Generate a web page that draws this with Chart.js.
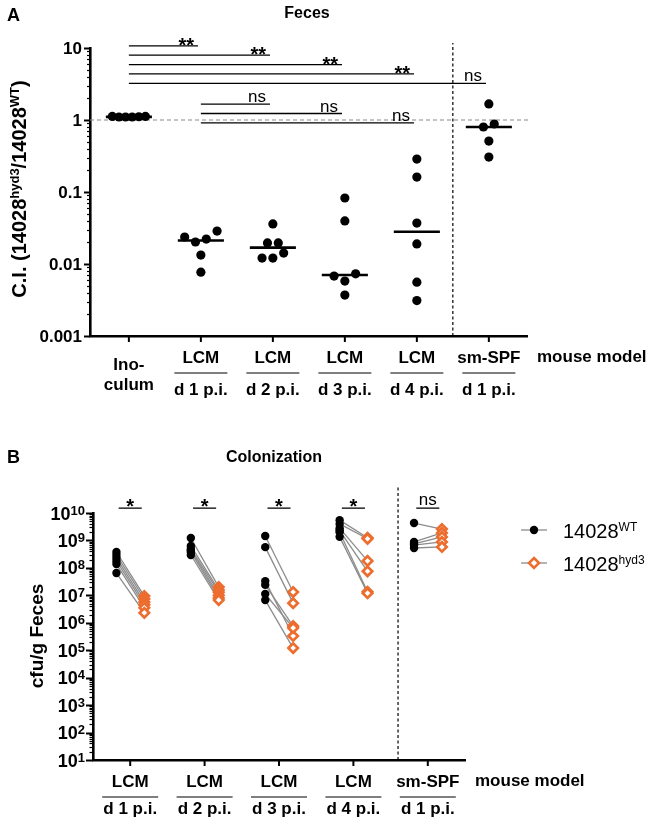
<!DOCTYPE html>
<html lang="en">
<head>
<meta charset="UTF-8">
<title>Feces C.I. and colonization</title>
<script src="https://cdn.jsdelivr.net/npm/chart.js"></script>
<style>
  body { margin: 0; background: #fff; }
  #wrap { position: relative; width: 658px; height: 824px; }
  canvas { position: absolute; left: 0; }
</style>
</head>
<body>
<div id="wrap">
  <canvas id="chartA" width="658" height="410" style="top:0"></canvas>
  <canvas id="chartB" width="658" height="404" style="top:420px"></canvas>
</div>

<script>
// ---------- panel A: competitive index in feces ----------
const groupTopA = ['Ino-', 'LCM', 'LCM', 'LCM', 'LCM', 'sm-SPF'];
const groupBottomA = ['culum', 'd 1 p.i.', 'd 2 p.i.', 'd 3 p.i.', 'd 4 p.i.', 'd 1 p.i.'];
const ciValues = [
  [1.1, 1.12, 1.1, 1.11, 1.1, 1.12],
  [0.0237, 0.0202, 0.0222, 0.0287, 0.0133, 0.0077],
  [0.036, 0.0196, 0.0196, 0.0142, 0.0121, 0.0121],
  [0.0826, 0.0396, 0.0073, 0.0068, 0.0058, 0.0037],
  [0.287, 0.161, 0.037, 0.019, 0.0056, 0.0031],
  [1.67, 0.88, 0.80, 0.51, 0.306]
];
// [from group, to group, result]
const ciTests = [
  [0, 1, '**'], [0, 2, '**'], [0, 3, '**'], [0, 4, '**'], [0, 5, 'ns'],
  [1, 2, 'ns'], [1, 3, 'ns'], [1, 4, 'ns']
];

// ---------- panel B: colonization ----------
const groupTopB = ['LCM', 'LCM', 'LCM', 'LCM', 'sm-SPF'];
const groupBottomB = ['d 1 p.i.', 'd 2 p.i.', 'd 3 p.i.', 'd 4 p.i.', 'd 1 p.i.'];
const cfuWT = [
  [3.8e8, 2.95e8, 2.3e8, 1.8e8, 1.38e8, 6.5e7],
  [1.23e9, 6.3e8, 4.9e8, 4.3e8, 3.8e8, 2.95e8],
  [1.45e9, 5.7e8, 3.3e7, 2.4e7, 1.12e7, 6.7e6],
  [5.5e9, 4e9, 2.8e9, 2.3e9, 2e9, 1.35e9],
  [4.3e9, 8.8e8, 7.5e8, 6.8e8, 5.3e8]
];
const cfuHyd3 = [
  [9.4e6, 7.4e6, 5.7e6, 4.5e6, 3.5e6, 2.3e6],
  [2.0e7, 1.55e7, 1.3e7, 1.0e7, 8e6, 6.7e6],
  [1.32e7, 5.2e6, 3.3e5, 7.6e5, 6.5e5, 1.2e5],
  [1.25e9, 1.15e9, 1.8e8, 7.5e7, 1.35e7, 1.2e7],
  [2.6e9, 1.87e9, 1.34e9, 8.8e8, 5.8e8]
];
const cfuTests = ['*', '*', '*', '*', 'ns'];
const legendB = [[['14028', 0], ['WT', 1]], [['14028', 0], ['hyd3', 1]]];

const FONT = '"Liberation Sans", Arial, sans-serif';
const ORANGE = '#EC6D2E';
const GREY = '#8c8c8c';

function font(size, bold) { return (bold ? 'bold ' : '') + size + 'px ' + FONT; }

// text with superscript pieces
function drawRich(ctx, pieces, x, y, size, supSize, bold, align, rise) {
  const widths = pieces.map(([t, sup]) => { ctx.font = font(sup ? supSize : size, bold); return ctx.measureText(t).width; });
  const total = widths.reduce((a, b) => a + b, 0);
  let cx = align === 'right' ? x - total : align === 'center' ? x - total / 2 : x;
  ctx.textAlign = 'left';
  ctx.textBaseline = 'alphabetic';
  pieces.forEach(([t, sup], i) => {
    ctx.font = font(sup ? supSize : size, bold);
    ctx.fillText(t, cx, sup ? y - rise : y);
    cx += widths[i];
  });
}

function median(arr) {
  const s = arr.slice().sort((a, b) => a - b), n = s.length;
  return n % 2 ? s[(n - 1) / 2] : (s[n / 2 - 1] + s[n / 2]) / 2;
}

// column scatter: points with almost equal values are spread sideways
function swarmOffsets(values, tol, step, maxSpan) {
  const logs = values.map(v => Math.log10(v));
  const order = values.map((_, i) => i).sort((a, b) => logs[b] - logs[a]);
  const offs = values.map(() => 0);
  const place = run => {
    const n = run.length, s = n > 1 ? Math.min(step, maxSpan / (n - 1)) : 0;
    const slots = [];
    for (let lo = 0, hi = n - 1; lo <= hi; lo++, hi--) { slots.push(hi); if (lo !== hi) slots.push(lo); }
    run.forEach((idx, k) => { offs[idx] = (slots[k] - (n - 1) / 2) * s; });
  };
  let run = [order[0]];
  for (let k = 1; k < order.length; k++) {
    if (logs[run[run.length - 1]] - logs[order[k]] < tol) run.push(order[k]);
    else { place(run); run = [order[k]]; }
  }
  place(run);
  return offs;
}

function seg(x1, y1, x2, y2, color, width, dash, order) {
  return {
    data: [{ x: x1, y: y1 }, { x: x2, y: y2 }], showLine: true, pointRadius: 0,
    borderColor: color, borderWidth: width, borderDash: dash || [], clip: false, order: order || 2
  };
}

// log axis tick marks
function drawAxisMarks(ctx, chart, lo, hi, majorLen) {
  const ys = chart.scales.y;
  const ax = chart.chartArea.left;
  ctx.save();
  ctx.strokeStyle = '#000';
  for (let e = lo; e <= hi; e++) {
    for (let m = 1; m <= 9; m++) {
      if (e === hi && m > 1) break;
      const py = Math.round(ys.getPixelForValue(m * Math.pow(10, e))) + 0.5;
      ctx.lineWidth = m === 1 ? 2 : 1.2;
      ctx.beginPath();
      ctx.moveTo(ax - (m === 1 ? majorLen : majorLen / 2), py);
      ctx.lineTo(ax, py);
      ctx.stroke();
    }
  }
  ctx.restore();
}

function drawGroupLabels(ctx, chart, tops, bottoms, yTop, yLine, yBottom, lineW, plain) {
  const xs = chart.scales.x, by = chart.chartArea.bottom;
  ctx.save();
  ctx.fillStyle = '#000';
  ctx.textAlign = 'center';
  ctx.textBaseline = 'alphabetic';
  ctx.font = font(17, true);
  tops.forEach((t, i) => {
    const px = xs.getPixelForValue(i);
    ctx.strokeStyle = '#000';
    ctx.lineWidth = 2;
    ctx.beginPath(); ctx.moveTo(px, by); ctx.lineTo(px, by + 6); ctx.stroke();
    if (i === plain) {
      ctx.fillText(t, px, yTop + 7);
      ctx.fillText(bottoms[i], px, yBottom - 5);
      return;
    }
    ctx.fillText(t, px, yTop);
    ctx.fillText(bottoms[i], px, yBottom);
    ctx.strokeStyle = '#555';
    ctx.lineWidth = 1.4;
    ctx.beginPath(); ctx.moveTo(px - lineW / 2, yLine); ctx.lineTo(px + lineW / 2, yLine); ctx.stroke();
  });
  ctx.textAlign = 'left';
  ctx.fillText('mouse model', xs.right + 10, yTop - 1);
  ctx.restore();
}

// ----- build panel A -----
const mediansA = ciValues.map(median);
const pointsA = [];
ciValues.forEach((vals, g) => {
  const offs = swarmOffsets(vals, 0.125, 0.15, 0.46);
  vals.forEach((v, i) => pointsA.push({ x: g + offs[i], y: v }));
});
const bracketA = ciTests.map(([a, b, txt], k) => {
  const rank = ciTests.filter(t => t[0] === a).findIndex(t => t === ciTests[k]);
  const level = Math.pow(10, (a === 0 ? 1.03 : 0.22) - 0.13 * rank);
  return { x1: a, x2: b - 0.04, y: level, txt };
});

const datasetsA = [
  { data: pointsA, pointRadius: 4.6, pointBackgroundColor: '#000', pointBorderWidth: 0, clip: false, order: 0 },
  ...mediansA.map((m, g) => seg(g - 0.32, m, g + 0.32, m, '#000', 2.6, null, 1)),
  seg(-0.54, 1, 5.56, 1, '#8a8a8a', 1.2, [4, 3]),
  seg(4.5, 0.001, 4.5, 11.7, '#000', 1.2, [3, 2.5]),
  ...bracketA.map(b => seg(b.x1, b.y, b.x2, b.y, '#000', 1.3))
];

const panelA = {
  id: 'panelA',
  afterDraw(chart) {
    const ctx = chart.ctx, ys = chart.scales.y, xs = chart.scales.x;
    drawAxisMarks(ctx, chart, -3, 1, 6);
    ctx.save();
    ctx.fillStyle = '#000';
    ctx.font = font(17, true);
    ctx.textAlign = 'right';
    ctx.textBaseline = 'middle';
    ['0.001', '0.01', '0.1', '1', '10'].forEach(t => ctx.fillText(t, chart.chartArea.left - 8, ys.getPixelForValue(+t) + 1));
    // brackets text
    bracketA.forEach(b => {
      const px = xs.getPixelForValue(b.x2) - 4, py = ys.getPixelForValue(b.y);
      ctx.textBaseline = 'alphabetic';
      if (b.txt === 'ns') { ctx.font = font(17, false); ctx.fillText(b.txt, px, py - 2); }
      else { ctx.font = font(20, true); ctx.fillText(b.txt, px, py + 6); }
    });
    // titles
    ctx.textAlign = 'left';
    ctx.font = font(18, true);
    ctx.fillText('A', 7, 21);
    ctx.textAlign = 'center';
    ctx.font = font(16, true);
    ctx.fillText('Feces', 307, 18);
    ctx.restore();
    drawGroupLabels(ctx, chart, groupTopA, groupBottomA, 363, 373, 395, 53, 0);
    ctx.save();
    ctx.translate(19, 189);
    ctx.rotate(-Math.PI / 2);
    ctx.fillStyle = '#000';
    drawRich(ctx, [['C.I. (14028', 0], ['hyd3', 1], ['/14028', 0], ['WT', 1], [')', 0]], 0, 7, 20, 13, true, 'center', 7.5);
    ctx.restore();
  }
};

const axisStyle = {
  grid: { display: false, drawTicks: false },
  ticks: { display: false },
  border: { color: '#000', width: 2.6 }
};

new Chart(document.getElementById('chartA'), {
  type: 'scatter',
  data: { datasets: datasetsA },
  options: {
    responsive: false, animation: false, events: [],
    layout: { padding: { left: 90, right: 131, top: 48, bottom: 74 } },
    plugins: { legend: { display: false }, tooltip: { enabled: false } },
    scales: {
      x: { type: 'linear', min: -0.54, max: 5.53, ...axisStyle },
      y: { type: 'logarithmic', min: 0.001, max: 10, ...axisStyle }
    }
  },
  plugins: [panelA]
});

// ----- build panel B -----
const wtOff = -0.185, hydOff = 0.19;
const pairLines = [];
cfuWT.forEach((vals, g) => vals.forEach((v, i) =>
  pairLines.push(seg(g + wtOff, v, g + hydOff, cfuHyd3[g][i], GREY, 1.3))));

const datasetsB = [
  { data: cfuWT.flatMap((vals, g) => vals.map(v => ({ x: g + wtOff, y: v }))),
    pointRadius: 4.2, pointBackgroundColor: '#000', pointBorderWidth: 0, clip: false, order: 0 },
  { data: cfuHyd3.flatMap((vals, g) => vals.map(v => ({ x: g + hydOff, y: v }))),
    pointStyle: 'rectRot', pointRadius: 4.7, pointBackgroundColor: '#fff', pointBorderColor: ORANGE,
    pointBorderWidth: 2.7, clip: false, order: 0 },
  ...pairLines,
  seg(3.6, 10, 3.6, 8.9e10, '#000', 1.2, [3, 2.5]),
  ...cfuTests.map((t, g) => seg(g - 0.155, 1.5e10, g + 0.155, 1.5e10, '#333', 1.6))
];

const panelB = {
  id: 'panelB',
  afterDraw(chart) {
    const ctx = chart.ctx, ys = chart.scales.y, xs = chart.scales.x;
    drawAxisMarks(ctx, chart, 1, 10, 7);
    ctx.save();
    ctx.fillStyle = '#000';
    for (let e = 1; e <= 10; e++) {
      const py = ys.getPixelForValue(Math.pow(10, e));
      drawRich(ctx, [['10', 0], [String(e), 1]], chart.chartArea.left - 8, py + 6.5, 18, 13, true, 'right', 5);
    }
    ctx.textAlign = 'center';
    ctx.textBaseline = 'alphabetic';
    cfuTests.forEach((t, g) => {
      const px = xs.getPixelForValue(g), py = ys.getPixelForValue(1.5e10);
      if (t === 'ns') { ctx.font = font(17, false); ctx.fillText(t, px, py - 3); }
      else { ctx.font = font(20, true); ctx.fillText(t, px, py + 5); }
    });
    ctx.textAlign = 'left';
    ctx.font = font(18, true);
    ctx.fillText('B', 7, 43);
    ctx.textAlign = 'center';
    ctx.font = font(16, true);
    ctx.fillText('Colonization', 274, 42);
    // legend
    legendB.forEach((pieces, i) => {
      const ly = 110 + i * 33;
      ctx.strokeStyle = GREY; ctx.lineWidth = 1.3;
      ctx.beginPath(); ctx.moveTo(521, ly); ctx.lineTo(547, ly); ctx.stroke();
      if (i === 0) {
        ctx.fillStyle = '#000';
        ctx.beginPath(); ctx.arc(534, ly, 4.2, 0, Math.PI * 2); ctx.fill();
      } else {
        ctx.fillStyle = '#fff'; ctx.strokeStyle = ORANGE; ctx.lineWidth = 2.6;
        ctx.beginPath(); ctx.moveTo(534, ly - 5); ctx.lineTo(539, ly); ctx.lineTo(534, ly + 5); ctx.lineTo(529, ly); ctx.closePath();
        ctx.fill(); ctx.stroke();
      }
      ctx.fillStyle = '#000';
      drawRich(ctx, pieces, 563, ly + 8, 20, 12, false, 'left', 7);
    });
    ctx.restore();
    drawGroupLabels(ctx, chart, groupTopB, groupBottomB, 367, 377, 394, 56, -1);
    ctx.save();
    ctx.translate(36, 216);
    ctx.rotate(-Math.PI / 2);
    ctx.fillStyle = '#000';
    drawRich(ctx, [['cfu/g Feces', 0]], 0, 7, 19, 12, true, 'center', 7);
    ctx.restore();
  }
};

new Chart(document.getElementById('chartB'), {
  type: 'scatter',
  data: { datasets: datasetsB },
  options: {
    responsive: false, animation: false, events: [],
    layout: { padding: { left: 93, right: 193, top: 93, bottom: 64 } },
    plugins: { legend: { display: false }, tooltip: { enabled: false } },
    scales: {
      x: { type: 'linear', min: -0.5, max: 4.5, ...axisStyle },
      y: { type: 'logarithmic', min: 10, max: 1e10, ...axisStyle }
    }
  },
  plugins: [panelB]
});
</script>
</body>
</html>
